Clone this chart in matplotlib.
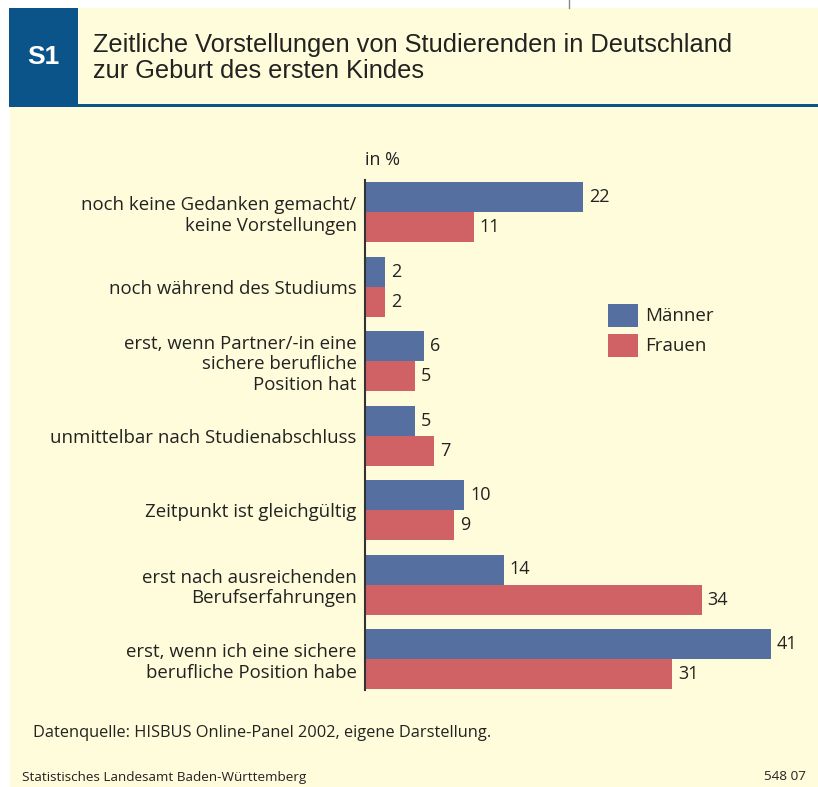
import matplotlib
matplotlib.use("Agg")
import matplotlib.pyplot as plt
from matplotlib.patches import Rectangle
import numpy as np

categories = [
    "noch keine Gedanken gemacht/\nkeine Vorstellungen",
    "noch während des Studiums",
    "erst, wenn Partner/-in eine\nsichere berufliche\nPosition hat",
    "unmittelbar nach Studienabschluss",
    "Zeitpunkt ist gleichgültig",
    "erst nach ausreichenden\nBerufserfahrungen",
    "erst, wenn ich eine sichere\nberufliche Position habe",
]
maenner = [22, 2, 6, 5, 10, 14, 41]
frauen = [11, 2, 5, 7, 9, 34, 31]
series_names = ["Männer", "Frauen"]

title = "Zeitliche Vorstellungen von Studierenden in Deutschland\nzur Geburt des ersten Kindes"
source = "Datenquelle: HISBUS Online-Panel 2002, eigene Darstellung."
footer_left = "Statistisches Landesamt Baden-Württemberg"
footer_right = "548 07"

BLUE = "#5570A0"
RED = "#D06266"
CREAM = "#FEFCDA"
HEADBLUE = "#0B5489"
TXT = "#222222"

plt.rcParams['font.family'] = ['Open Sans', 'DejaVu Sans']
NARROW = ['Liberation Sans', 'DejaVu Sans']

W, H = 818, 787
fig = plt.figure(figsize=(W / 100, H / 100), dpi=100)
fig.patch.set_facecolor("white")

# background / decoration axes in pixel coordinates
bg = fig.add_axes([0, 0, 1, 1])
bg.set_xlim(0, W)
bg.set_ylim(H, 0)
bg.axis("off")
bg.add_patch(Rectangle((10, 8), W - 10, H - 8, facecolor=CREAM, edgecolor="none"))
bg.add_patch(Rectangle((9, 8), 69, 97, facecolor=HEADBLUE, edgecolor="none"))
bg.add_patch(Rectangle((9, 104), W - 9, 3, facecolor=HEADBLUE, edgecolor="none"))
bg.plot([569, 569], [0, 8], color="#888888", lw=1)
bg.text(43, 57, "S1", color="white", fontsize=19, fontweight="bold",
        ha="center", va="center", family=NARROW)
bg.text(93, 58, title, color=TXT, fontsize=18.3, ha="left", va="center",
        linespacing=1.08, family=NARROW)
bg.text(365, 160, "in %", color=TXT, fontsize=13, ha="left", va="center")
bg.text(33, 733, source, color=TXT, fontsize=11.75, ha="left", va="center")
bg.text(22, 777, footer_left, color=TXT, fontsize=9.7, ha="left", va="center")
bg.text(806, 777, footer_right, color=TXT, fontsize=9.7, ha="right", va="center")

# legend patches
bg.add_patch(Rectangle((608, 304), 30, 23, facecolor=BLUE, edgecolor="none"))
bg.add_patch(Rectangle((608, 334), 30, 23, facecolor=RED, edgecolor="none"))
bg.text(645, 316, series_names[0], color=TXT, fontsize=13.5, ha="left", va="center")
bg.text(645, 346, series_names[1], color=TXT, fontsize=13.5, ha="left", va="center")

# main chart axes
pitch = 74.5
c0 = 212
top_px, bot_px = 180, 690
left_px = 365
ppu = 9.9
xmax = 45
ax = fig.add_axes([left_px / W, 1 - bot_px / H, xmax * ppu / W, (bot_px - top_px) / H])
ax.set_facecolor("none")
y = np.arange(len(categories))
ax.set_ylim((bot_px - c0) / pitch, (top_px - c0) / pitch)
ax.set_xlim(0, xmax)
bh = 30 / pitch
ax.barh(y - bh / 2, maenner, height=bh, color=BLUE, edgecolor="none")
ax.barh(y + bh / 2, frauen, height=bh, color=RED, edgecolor="none")
for i in range(len(categories)):
    ax.text(maenner[i] + 0.6, y[i] - bh / 2, str(maenner[i]), va="center", ha="left",
            fontsize=13, color=TXT)
    ax.text(frauen[i] + 0.6, y[i] + bh / 2, str(frauen[i]), va="center", ha="left",
            fontsize=13, color=TXT)
ax.set_yticks(y)
ax.set_yticklabels(categories, fontsize=13.4, color=TXT, linespacing=1.2)
ax.tick_params(axis="y", length=0, pad=6)
ax.set_xticks([])
for s in ["top", "right", "bottom"]:
    ax.spines[s].set_visible(False)
ax.spines["left"].set_color("#333333")
ax.spines["left"].set_linewidth(1.5)
for lab in ax.get_yticklabels():
    lab.set_horizontalalignment("right")

fig.savefig("out.png", dpi=100, facecolor=fig.get_facecolor())
